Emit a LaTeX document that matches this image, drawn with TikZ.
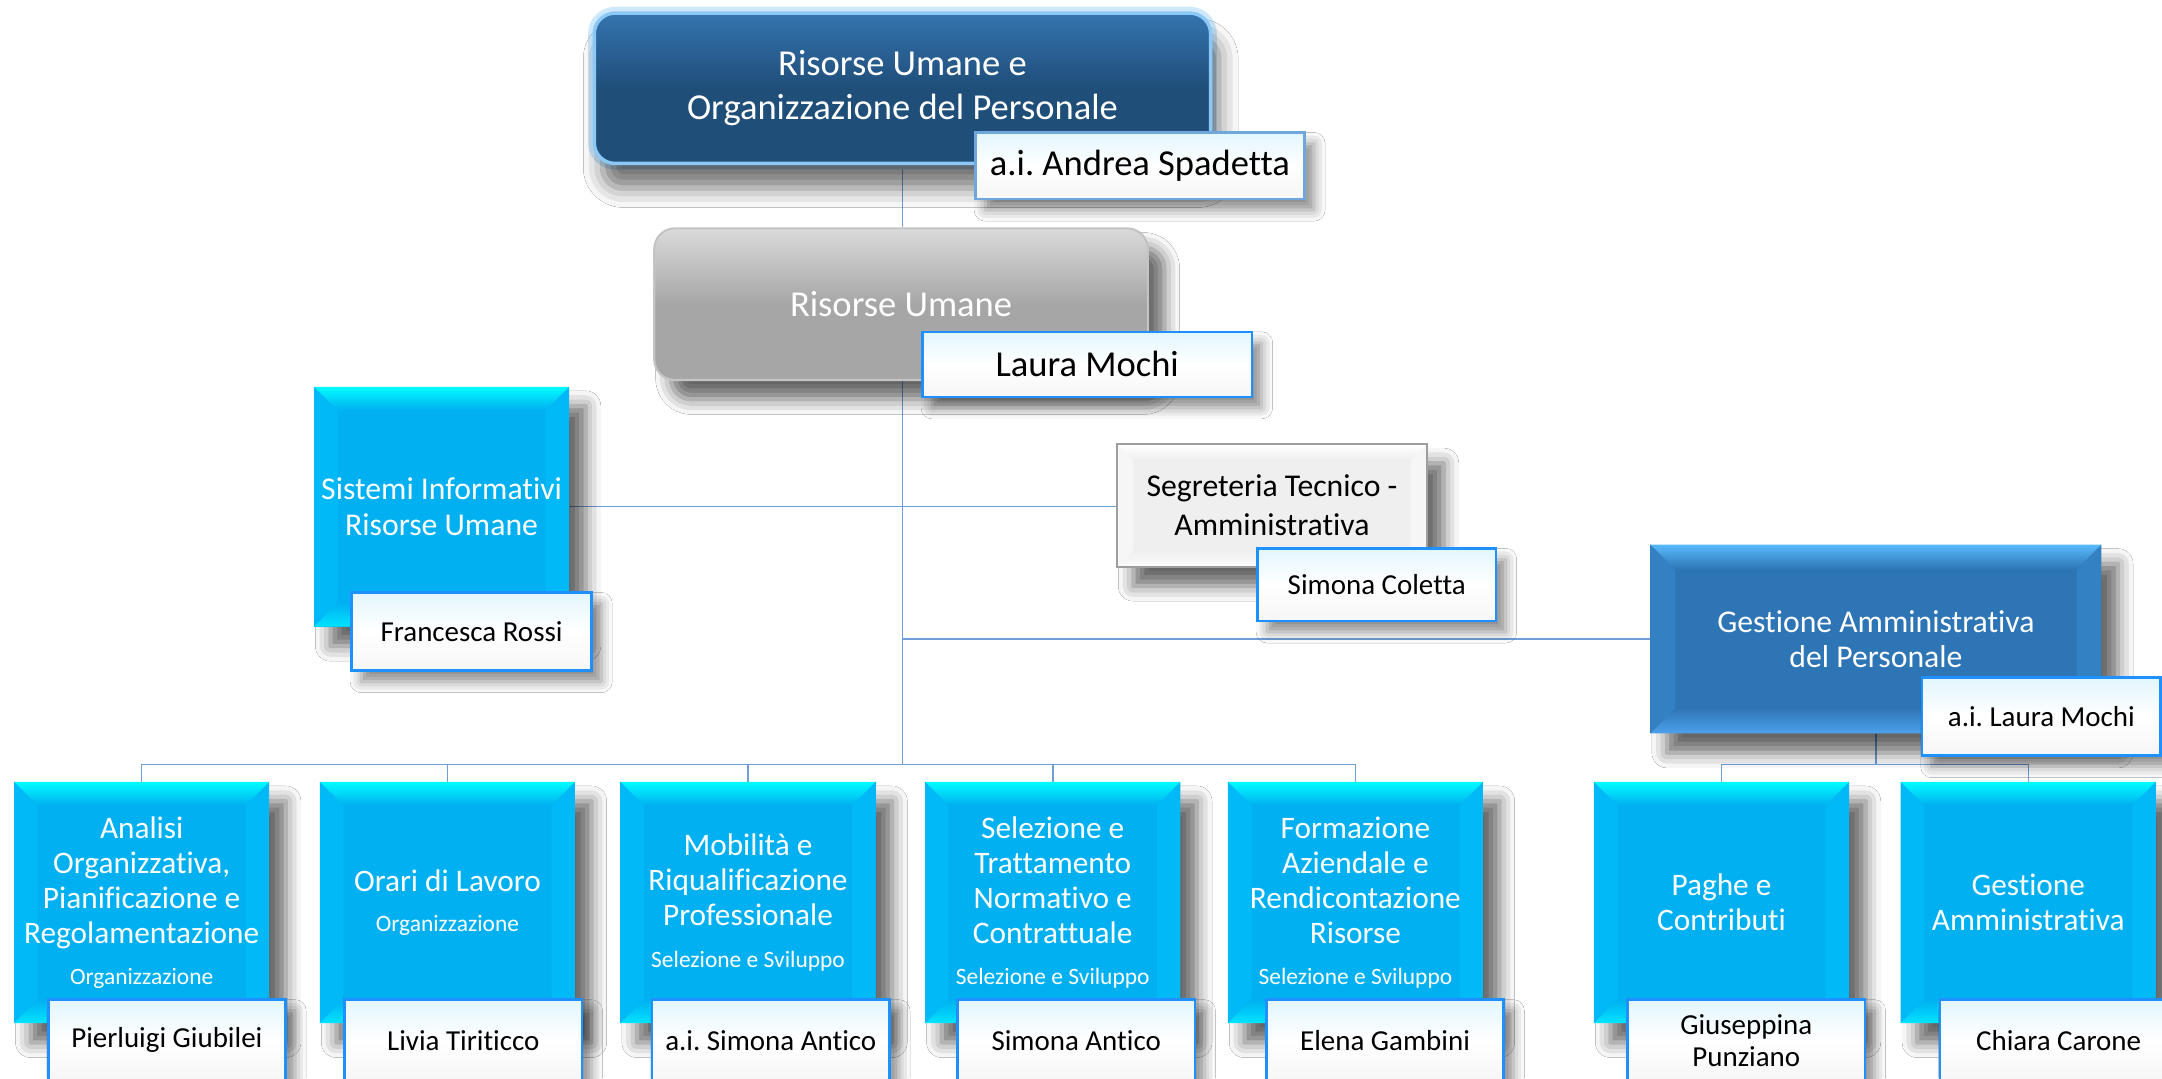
\documentclass[tikz,border=0pt]{standalone}
\usepackage{fontspec}
\setmainfont{Carlito}[Ligatures=NoCommon]
\frenchspacing
\usetikzlibrary{shadows.blur,calc}
\pgfdeclarelayer{bg}
\pgfsetlayers{bg,main}
\definecolor{conn}{HTML}{6F9FD8}
\definecolor{cyface}{HTML}{00B0F0}
\definecolor{cytop}{HTML}{00FCFF}
\definecolor{cybot}{HTML}{00E4FF}
\definecolor{cyside}{HTML}{00B9F6}
\definecolor{gaface}{HTML}{2E75B6}
\definecolor{gatop}{HTML}{58BAFB}
\definecolor{gabot}{HTML}{4CA2EC}
\definecolor{gaside}{HTML}{3380C2}
\definecolor{sgface}{HTML}{EFEFEF}
\definecolor{sgtop}{HTML}{FFFFFF}
\definecolor{sgbot}{HTML}{FBFBFB}
\definecolor{sgside}{HTML}{F6F6F6}
\definecolor{namebd}{HTML}{1E90FF}
\definecolor{namebdl}{HTML}{6FA6DC}
\definecolor{topface}{HTML}{1F4E79}
\definecolor{tophi}{HTML}{3574B0}
\definecolor{topglow}{HTML}{8CC8F5}
\definecolor{topglowl}{HTML}{CDE7FB}
\definecolor{ruface}{HTML}{A6A6A6}
\definecolor{ruhi}{HTML}{DADADA}
\definecolor{rubd}{HTML}{C4C4C4}
\definecolor{sgbd}{HTML}{9E9E9E}
\definecolor{nametop}{HTML}{E2F6FD}
\definecolor{namebot}{HTML}{F6F6F6}
\newcommand\fbig{\fontsize{26.5}{31.5}\selectfont}
\newcommand\fmid{\fontsize{23}{25.5}\selectfont}
\newcommand\fseg{\fontsize{23}{28}\selectfont}
\newcommand\fbot{\fontsize{22.7}{25.4}\selectfont}
\newcommand\fsmall{\fontsize{17}{20}\selectfont}
\newcommand\fname{\fontsize{21}{23}\selectfont}
\tikzset{
  shd/.style={blur shadow={shadow xshift=12pt, shadow yshift=-14pt, shadow blur radius=11pt, shadow opacity=60}},
  shdsmall/.style={blur shadow={shadow xshift=7pt, shadow yshift=-8pt, shadow blur radius=8pt, shadow opacity=45}},
  bevel/.style n args={5}{fill=#1, path picture={
    \coordinate (pNW) at (path picture bounding box.north west);
    \coordinate (pNE) at (path picture bounding box.north east);
    \coordinate (pSW) at (path picture bounding box.south west);
    \coordinate (pSE) at (path picture bounding box.south east);
    \coordinate (iNW) at ([xshift=#5,yshift=-#5]pNW);
    \coordinate (iNE) at ([xshift=-#5,yshift=-#5]pNE);
    \coordinate (iSW) at ([xshift=#5,yshift=#5]pSW);
    \coordinate (iSE) at ([xshift=-#5,yshift=#5]pSE);
    \fill[#4] (pNW) -- (iNW) -- (iSW) -- (pSW) -- cycle;
    \fill[#4] (pNE) -- (iNE) -- (iSE) -- (pSE) -- cycle;
    \shade[top color=#2, bottom color=#1] (pNW) -- (pNE) -- (iNE) -- (iNW) -- cycle;
    \shade[top color=#1, bottom color=#3] (pSW) -- (pSE) -- (iSE) -- (iSW) -- cycle;
  }},
  cybox/.style={bevel={cyface}{cytop}{cybot}{cyside}{17pt}, shd, inner sep=0pt,
    minimum width=185pt, minimum height=175pt, text=white, font=\fbot, align=center},
  namebox/.style={draw=namebd, line width=1.8pt, top color=nametop, bottom color=namebot,
    middle color=white, shdsmall, inner sep=0pt, minimum width=172pt, font=\fname, align=center},
  conline/.style={draw=conn, line width=1.1pt},
}
\begin{document}
\begin{tikzpicture}[x=1pt,y=-1pt]
\useasboundingbox (0,0) rectangle (1568,782);

% top level
\node[rounded corners=15pt, minimum width=447pt, minimum height=109pt, inner sep=0pt,
  top color=tophi, bottom color=topface, middle color=topface, draw=topglow, line width=2.5pt,
  preaction={draw=topglowl, line width=9pt},
  blur shadow={shadow xshift=6pt, shadow yshift=-18pt, shadow blur radius=14pt, shadow opacity=55},
  text=white, font=\fbig, align=center] (top) at (654.5,64) {Risorse Umane e\\Organizzazione del Personale};
\node[namebox, draw=namebdl, minimum width=238.5pt, minimum height=48.3pt, font=\fbig] (andrea) at (826.75,120.2) {a.i. Andrea Spadetta};

% Risorse Umane
\node[rounded corners=15pt, minimum width=358pt, minimum height=110pt, inner sep=0pt,
  top color=ruhi, bottom color=ruface, middle color=ruface, draw=rubd, line width=1.5pt, shd,
  text=white, font=\fbig, align=center] (ru) at (653.5,220.6) {Risorse Umane};
\node[namebox, minimum width=239pt, minimum height=47.1pt, font=\fbig] (laura) at (788.5,264.2) {Laura Mochi};

% Sistemi Informativi
\node[cybox, minimum width=185pt, minimum height=174pt, font=\fmid] (sis) at (320.25,367.5) {Sistemi Informativi\\Risorse Umane};
\node[namebox, minimum width=174pt, minimum height=56.8pt] (fra) at (342,458) {Francesca Rossi};

% Segreteria
\node[bevel={sgface}{sgtop}{sgbot}{sgside}{12pt}, draw=sgbd, line width=1.5pt, shd, inner sep=0pt,
  minimum width=225pt, minimum height=89pt, font=\fseg, align=center] (seg) at (922.5,366.5) {Segreteria Tecnico -\\Amministrativa};
\node[namebox, minimum width=173pt, minimum height=52.7pt] (sim) at (998.5,424) {Simona Coletta};

% Gestione Amministrativa del Personale
\node[bevel={gaface}{gatop}{gabot}{gaside}{18pt}, shd, inner sep=0pt,
  minimum width=327pt, minimum height=137pt, text=white, font=\fmid, align=center] (ga) at (1360.5,463.4) {Gestione Amministrativa\\del Personale};
\node[namebox, minimum width=173pt, minimum height=56.5pt] (lm) at (1480.5,519.75) {a.i. Laura Mochi};

% bottom row
\node[cybox] (b1) at (102.75,654.5) {Analisi\\Organizzativa,\\Pianificazione e\\Regolamentazione\\[4pt]{\fsmall Organizzazione}};
\node[cybox] (b2) at (324.5,654.5) {Orari di Lavoro\\[4pt]{\fsmall Organizzazione}};
\node[cybox] (b3) at (542.5,654.5) {Mobilità e\\Riqualificazione\\Professionale\\[5pt]{\fsmall Selezione e Sviluppo}};
\node[cybox] (b4) at (763.5,654.5) {Selezione e\\Trattamento\\Normativo e\\Contrattuale\\[4pt]{\fsmall Selezione e Sviluppo}};
\node[cybox] (b5) at (983,654.5) {Formazione\\Aziendale e\\Rendicontazione\\Risorse\\[4pt]{\fsmall Selezione e Sviluppo}};
\node[cybox] (b6) at (1248.5,654.5) {Paghe e\\Contributi};
\node[cybox] (b7) at (1471,654.5) {Gestione\\Amministrativa};

\node[namebox, minimum height=59pt] (n1) at (121,754.5) {Pierluigi Giubilei};
\node[namebox, minimum height=59pt] (n2) at (336,754.5) {Livia Tiriticco};
\node[namebox, minimum height=59pt] (n3) at (559,754.5) {a.i. Simona Antico};
\node[namebox, minimum height=59pt] (n4) at (780.5,754.5) {Simona Antico};
\node[namebox, minimum height=59pt] (n5) at (1004.5,754.5) {Elena Gambini};
\node[namebox, minimum height=59pt] (n6) at (1266.5,754.5) {Giuseppina\\Punziano};
\node[namebox, minimum height=59pt] (n7) at (1493,754.5) {Chiara Carone};

% connectors
\begin{pgfonlayer}{bg}
\fill[white] (0,0) rectangle (1568,782);
\coordinate (busy) at (0,554.4);
\coordinate (bus) at (top.south |- busy);
\draw[conline] (top.south) -- (top.south |- ru.north);
\draw[conline] (top.south |- ru.south) -- (bus);
\draw[conline] (b1.north) |- (bus);
\draw[conline] (b5.north) |- (bus);
\draw[conline] (b2.north) -- (b2.north |- bus);
\draw[conline] (b3.north) -- (b3.north |- bus);
\draw[conline] (b4.north) -- (b4.north |- bus);
\draw[conline] (sis.east) -- (sis.east -| seg.west);
\draw[conline] (ga.west) -- (ga.west -| bus);
\coordinate (gbus) at (ga.south |- busy);
\draw[conline] (ga.south) -- (gbus);
\draw[conline] (b6.north) |- (gbus) -| (b7.north);
\end{pgfonlayer}
\end{tikzpicture}
\end{document}
